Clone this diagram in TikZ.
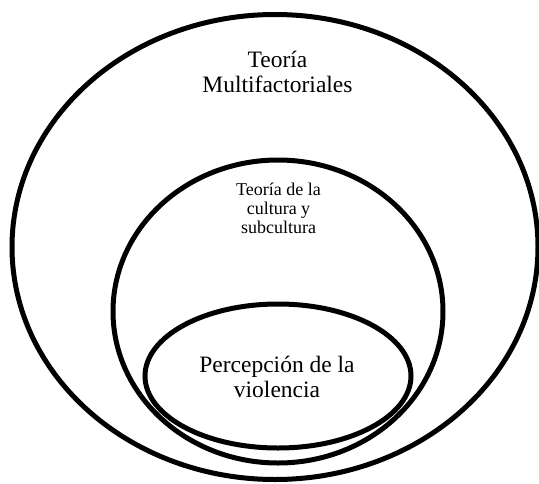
\documentclass[tikz,border=0pt]{standalone}
\usepackage{fontspec}
\setmainfont{Liberation Serif}
\usetikzlibrary{shapes.geometric}
\tikzset{
  ring/.style={draw=black, line width=5pt, ellipse, inner sep=0pt},
  bigtxt/.style={font=\fontsize{23.5}{26}\selectfont, anchor=base, inner sep=0pt},
  midtxt/.style={font=\fontsize{18}{19.5}\selectfont, anchor=base, inner sep=0pt}
}
\begin{document}
\begin{tikzpicture}[x=1pt,y=-1pt]
\useasboundingbox (0,0) rectangle (539,483);
\node[ring, minimum width=526pt, minimum height=465pt] (outer) at (275,247) {};
\node[ring, minimum width=330pt, minimum height=303pt] (middle) at (278,311.5) {};
\node[ring, minimum width=266pt, minimum height=144pt] (inner) at (278,376) {};
\node[bigtxt] (t1a) at (277.5,67) {Teoría};
\node[bigtxt] (t1b) at (277.5,92) {Multifactoriales};
\node[midtxt] (t2a) at (278.5,195) {Teoría de la};
\node[midtxt] (t2b) at (278.5,214) {cultura y};
\node[midtxt] (t2c) at (278.5,233) {subcultura};
\node[bigtxt] (t3a) at (277,372) {Percepción de la};
\node[bigtxt] (t3b) at (277,397) {violencia};
\end{tikzpicture}
\end{document}
